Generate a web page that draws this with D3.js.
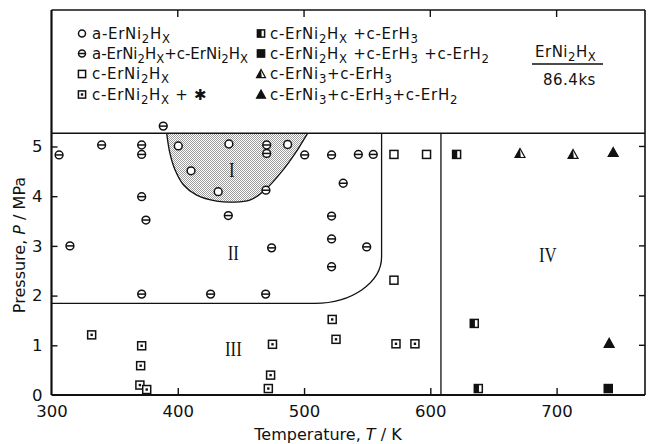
<!DOCTYPE html>
<html><head><meta charset="utf-8">
<script src="https://cdn.jsdelivr.net/npm/d3@7"></script>
<style>
body{margin:0;background:#fff}
svg{display:block}
text{font-family:"DejaVu Sans",sans-serif;fill:#111}
</style>
</head><body>
<svg id="chart" width="654" height="444"></svg>
<script>
// Axis ticks
const xTicks = [300, 400, 500, 600, 700];
const yTicks = [0, 1, 2, 3, 4, 5];
const xFrameTicks = [400, 500, 600, 700];
const yFrameTicks = [1, 2, 3, 4, 5];

// Observed phases, [T (K), P (MPa)]
const amorphous = [[400.4,5.01],[440.5,5.05],[487,5.04],[410.5,4.51],[432,4.09]];
const amorphousCrystal = [
  [306,4.83],[388.5,5.41],[339.7,5.03],[371.4,5.03],[371.4,4.84],[470.4,5.03],[470.4,4.86],
  [469.8,4.12],[500.5,4.83],[521.8,4.83],[543,4.84],[554.8,4.84],[531,4.26],[440,3.61],
  [371.4,3.99],[374.8,3.52],[314.6,3.00],[474.3,2.96],[521.8,3.60],[521.8,3.14],
  [549.6,2.98],[521.8,2.58],[371.4,2.03],[426,2.03],[469.6,2.03]];
const crystal = [[571.2,4.84],[597,4.84],[571.2,2.31]];
const crystalStar = [
  [331.8,1.21],[371.4,0.99],[370.6,0.59],[370,0.20],[375.4,0.11],[475,1.02],[473.5,0.40],
  [471.7,0.13],[522.3,1.52],[525.3,1.12],[572.8,1.03],[587.8,1.03]];
const crystalErH3 = [[620.8,4.84],[634.8,1.44],[638,0.13]];
const crystalErH3ErH2 = [[740.9,0.13]];
const ni3ErH3 = [[671,4.86],[713,4.84]];
const ni3ErH3ErH2 = [[744.8,4.88],[741.6,1.04]];

// Phase boundaries
const regionIOutline = [[391.2,5.265],[393.8,4.86],[397.8,4.53],[404.4,4.23],[415,4.02],
  [430.8,3.90],[444,3.88],[457,3.92],[469,4.12],[483.5,4.53],[494,4.90],[502,5.23],[503,5.265]];
const boundaryLowP = 1.845;          // II / III horizontal
const boundaryBendT = 508.6;         // where the horizontal starts to bend
const boundaryHighT = 561.4;         // II / c-ErNi2Hx vertical
const boundaryBendP = 2.78;          // where the vertical starts to bend
const boundaryIV_T = 608.4;          // region IV
const pTop = 5.265;

const regionLabels = [
  {label:"I",   T:442.7, P:4.39},
  {label:"II",  T:444,   P:2.72},
  {label:"III", T:444,   P:0.785},
  {label:"IV",  T:693,   P:2.68}];

const legendLeft = [
  {type:"openCircle",  text:"a-ErNi_2H_X"},
  {type:"theta",       text:"a-ErNi_2H_X+c-ErNi_2H_X"},
  {type:"openSquare",  text:"c-ErNi_2H_X"},
  {type:"dotSquare",   text:"c-ErNi_2H_X + ✱"}];
const legendRight = [
  {type:"halfSquare",   text:"c-ErNi_2H_X +c-ErH_3"},
  {type:"filledSquare", text:"c-ErNi_2H_X +c-ErH_3 +c-ErH_2"},
  {type:"halfTriangle", text:"c-ErNi_3+c-ErH_3"},
  {type:"filledTriangle", text:"c-ErNi_3+c-ErH_3+c-ErH_2"}];

const svg = d3.select("#chart");
const frameL = 51.5, frameR = 645, frameT = 10, frameB = 395, plotTop = 133.3;

const x = d3.scaleLinear().domain([300, 770]).range([frameL, frameR]);
const y = d3.scaleLinear().domain([0, pTop]).range([frameB, plotTop]);

// stipple fill for region I
const defs = svg.append("defs");
const pat = defs.append("pattern").attr("id","stipple").attr("width",2).attr("height",2)
  .attr("patternUnits","userSpaceOnUse");
pat.append("rect").attr("width",2).attr("height",2).attr("fill","#fff");
pat.append("rect").attr("x",0).attr("y",0).attr("width",1).attr("height",1).attr("fill","#9c9c9c");
pat.append("rect").attr("x",1).attr("y",1).attr("width",1).attr("height",1).attr("fill","#9c9c9c");

// region I
const outline = d3.line().x(d=>x(d[0])).y(d=>y(d[1])).curve(d3.curveCatmullRom.alpha(0.5));
svg.append("path").attr("d", outline(regionIOutline) + "Z")
  .attr("fill","url(#stipple)").attr("stroke","none");
svg.append("path").attr("d", outline(regionIOutline))
  .attr("fill","none").attr("stroke","#111").attr("stroke-width",1.3);

// II / III boundary with rounded corner
{
  const rx = x(boundaryHighT) - x(boundaryBendT);
  const ry = y(boundaryLowP) - y(boundaryBendP);
  const d = `M${x(300)},${y(boundaryLowP)} L${x(boundaryBendT)},${y(boundaryLowP)} ` +
    `A${rx},${ry} 0 0 0 ${x(boundaryHighT)},${y(boundaryBendP)} L${x(boundaryHighT)},${y(pTop)}`;
  svg.append("path").attr("d", d).attr("fill","none").attr("stroke","#111").attr("stroke-width",1.3);
}
// region IV boundary
svg.append("line").attr("x1",x(boundaryIV_T)).attr("x2",x(boundaryIV_T))
  .attr("y1",y(0)).attr("y2",y(pTop)).attr("stroke","#111").attr("stroke-width",1.3);

// frame
const frame = svg.append("g").attr("stroke","#111").attr("fill","none");
frame.append("line").attr("x1",frameL).attr("x2",frameL).attr("y1",frameT).attr("y2",frameB).attr("stroke-width",2.2);
frame.append("line").attr("x1",frameL).attr("x2",frameR).attr("y1",frameB).attr("y2",frameB).attr("stroke-width",2.2);
frame.append("line").attr("x1",frameR).attr("x2",frameR).attr("y1",frameT).attr("y2",frameB).attr("stroke-width",1.6);
frame.append("line").attr("x1",frameL).attr("x2",frameR).attr("y1",frameT).attr("y2",frameT).attr("stroke-width",1.6);
frame.append("line").attr("x1",frameL).attr("x2",frameR).attr("y1",plotTop).attr("y2",plotTop).attr("stroke-width",1.4);

// axes
const xAxis = svg.append("g").attr("transform",`translate(0,${frameB})`)
  .call(d3.axisBottom(x).tickValues(xTicks).tickFormat(d3.format("d"))
    .tickSizeInner(-7).tickSizeOuter(0).tickPadding(10.5));
const yAxis = svg.append("g").attr("transform",`translate(${frameL},0)`)
  .call(d3.axisLeft(y).tickValues(yTicks).tickFormat(d3.format("d"))
    .tickSizeInner(-6).tickSizeOuter(0).tickPadding(9));
[xAxis, yAxis].forEach(a => {
  a.select(".domain").remove();
  a.selectAll("line").attr("stroke","#111").attr("stroke-width",1.4);
  a.selectAll("text").attr("font-size",16.5).attr("font-family","DejaVu Sans").attr("fill","#111");
});
xAxis.selectAll(".tick").filter(d => d === 300).select("line").remove();
yAxis.selectAll(".tick").filter(d => d === 0).select("line").remove();

// ticks on the top and right edges
svg.append("g").selectAll("line").data(xFrameTicks).join("line")
  .attr("x1",d=>x(d)).attr("x2",d=>x(d)).attr("y1",frameT).attr("y2",frameT+7)
  .attr("stroke","#111").attr("stroke-width",1.4);
svg.append("g").selectAll("line").data(yFrameTicks).join("line")
  .attr("x1",frameR).attr("x2",frameR-6).attr("y1",d=>y(d)).attr("y2",d=>y(d))
  .attr("stroke","#111").attr("stroke-width",1.4);

// markers
function marker(g, type, cx, cy, k) {
  const r = 3.9*k, s = 8*k, tw = 10*k, th = 9*k;
  const sw = 1.5;
  if (type === "openCircle" || type === "theta") {
    g.append("circle").attr("cx",cx).attr("cy",cy).attr("r",r)
      .attr("fill","#fff").attr("stroke","#111").attr("stroke-width",sw);
    if (type === "theta")
      g.append("line").attr("x1",cx-r).attr("x2",cx+r).attr("y1",cy).attr("y2",cy)
        .attr("stroke","#111").attr("stroke-width",1.5);
  } else if (type.endsWith("Square")) {
    const filled = type === "filledSquare";
    g.append("rect").attr("x",cx-s/2).attr("y",cy-s/2).attr("width",s).attr("height",s)
      .attr("fill",filled ? "#111" : "#fff").attr("stroke","#111").attr("stroke-width",sw);
    if (type === "dotSquare")
      g.append("rect").attr("x",cx-1.2).attr("y",cy-1.2).attr("width",2.4).attr("height",2.4).attr("fill","#111");
    if (type === "halfSquare")
      g.append("rect").attr("x",cx-s/2).attr("y",cy-s/2).attr("width",s*0.58).attr("height",s).attr("fill","#111");
  } else {
    const filled = type === "filledTriangle";
    const p = [[cx, cy-th*0.55],[cx-tw/2, cy+th*0.45],[cx+tw/2, cy+th*0.45]];
    g.append("path").attr("d","M"+p.join("L")+"Z")
      .attr("fill",filled ? "#111" : "#fff").attr("stroke","#111").attr("stroke-width",1.2)
      .attr("stroke-linejoin","miter");
    if (type === "halfTriangle")
      g.append("path").attr("d",`M${cx},${cy-th*0.55}L${cx-tw/2},${cy+th*0.45}L${cx+tw*0.08},${cy+th*0.45}Z`)
        .attr("fill","#111");
  }
}
const series = [
  ["openCircle", amorphous], ["theta", amorphousCrystal], ["openSquare", crystal],
  ["dotSquare", crystalStar], ["halfSquare", crystalErH3], ["filledSquare", crystalErH3ErH2],
  ["halfTriangle", ni3ErH3], ["filledTriangle", ni3ErH3ErH2]];
const pts = svg.append("g");
series.forEach(([type, data]) => data.forEach(d => marker(pts, type, x(d[0]), y(d[1]), 1)));

// region numerals
svg.append("g").selectAll("text").data(regionLabels).join("text")
  .attr("x",d=>x(d.T)).attr("y",d=>y(d.P)).attr("text-anchor","middle")
  .attr("font-size",21)
  .attr("transform",d=>`translate(${x(d.T)},${y(d.P)}) scale(0.8,1) translate(${-x(d.T)},${-y(d.P)})`)
  .style("font-family","'Liberation Serif', serif").text(d=>d.label);

// text with subscripts written as _c
function richText(sel, str, size) {
  const parts = str.split(/(_.)/).filter(s => s.length);
  let shifted = false;
  parts.forEach(p => {
    if (p[0] === "_") {
      sel.append("tspan").attr("dy", shifted ? 0 : 4).attr("font-size", size*0.78).text(p[1]);
      shifted = true;
    } else {
      sel.append("tspan").attr("dy", shifted ? -4 : 0).text(p);
      shifted = false;
    }
  });
}

// legend; a label too long for its column is squeezed to fit
const rowsY = [38.5, 58.5, 79, 99.5];
function legendColumn(items, mx, tx, maxW) {
  items.forEach((it, i) => {
    marker(svg, it.type, mx, rowsY[i]-5, 0.9);
    const t = svg.append("text").attr("x",tx).attr("y",rowsY[i])
      .attr("font-size",15).attr("letter-spacing",0.7);
    richText(t, it.text, 15);
    if (t.node().getComputedTextLength() > maxW) {
      t.attr("letter-spacing",0);
      if (t.node().getComputedTextLength() > maxW)
        t.attr("textLength",maxW).attr("lengthAdjust","spacingAndGlyphs");
    }
  });
}
legendColumn(legendLeft, 82, 92, 156);
legendColumn(legendRight, 261, 270, 230);

// sample note
{
  const t = svg.append("text").attr("x",535).attr("y",57).attr("font-size",15).attr("letter-spacing",0.5);
  richText(t, "ErNi_2H_X", 15);
  svg.append("line").attr("x1",532).attr("x2",603).attr("y1",64).attr("y2",64)
    .attr("stroke","#111").attr("stroke-width",1.3);
  svg.append("text").attr("x",543).attr("y",85).attr("font-size",15).attr("letter-spacing",0.5).text("86.4ks");
}

// axis titles
{
  const t = svg.append("text").attr("x",328).attr("y",440).attr("text-anchor","middle").attr("font-size",16);
  t.append("tspan").text("Temperature, ");
  t.append("tspan").attr("font-style","italic").text("T");
  t.append("tspan").text(" / K");
  const u = svg.append("text").attr("transform","translate(25,245) rotate(-90)")
    .attr("text-anchor","middle").attr("font-size",16);
  u.append("tspan").text("Pressure, ");
  u.append("tspan").attr("font-style","italic").text("P");
  u.append("tspan").text(" / MPa");
}
</script>
</body></html>
